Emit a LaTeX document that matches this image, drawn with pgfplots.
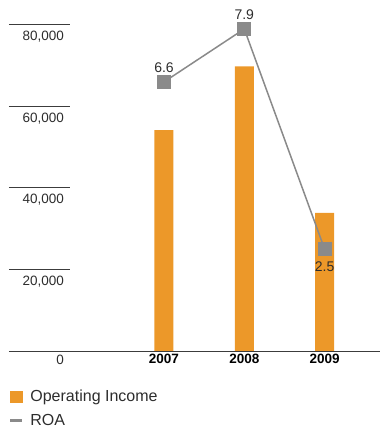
\documentclass[border=0pt]{standalone}
\usepackage{pgfplots}
\usepackage{pgfplotstable}
\usepackage{fontspec}
\setmainfont{Liberation Sans}
\pgfplotsset{compat=1.18}
\definecolor{barorange}{RGB}{236,152,41}
\definecolor{roagray}{RGB}{138,138,138}
\definecolor{txt}{RGB}{45,45,45}
\definecolor{rule}{RGB}{60,60,60}

\pgfplotstableread{
x income
0 54200
1 69800
2 33900
}\incometable

\pgfplotstableread{
x roa
0 6.6
1 7.9
2 2.5
}\roatable

\begin{document}
\begin{tikzpicture}
\useasboundingbox (0,0) rectangle (380pt,430pt);
\begin{axis}[
  at={(9pt,79pt)}, anchor=south west,
  scale only axis, width=371pt, height=351pt,
  xmin=-1.93, xmax=2.69,
  ymin=0, ymax=86100,
  axis line style={draw=none},
  xtick={0,1,2}, xticklabels={2007,2008,2009},
  xtick pos=bottom, xtick style={draw=none},
  xticklabel style={font=\fontsize{13.5}{16}\selectfont\bfseries, text=black, inner sep=0pt, anchor=north, yshift=-3pt},
  ytick={20000,40000,60000,80000},
  ytick pos=left, tick align=inside,
  major tick length=61pt,
  ytick style={draw=rule, line width=0.9pt},
  yticklabel style={font=\fontsize{13.5}{16}\selectfont, text=txt, inner sep=0pt, anchor=north east, xshift=55pt, yshift=-6pt},
  scaled y ticks=false,
  yticklabel={\pgfmathprintnumber[fixed, 1000 sep={,}]{\tick}},
  /pgf/number format/assume math mode=true,
  extra y ticks={0},
  extra y tick labels={0},
  extra y tick style={major tick length=371pt, tick style={draw=rule, line width=0.9pt}, yticklabel style={yshift=2pt}},
  clip=false,
]
\addplot[ybar, bar width=19pt, fill=barorange, draw=none] table[x=x, y=income] {\incometable};
\end{axis}
\begin{axis}[
  at={(9pt,79pt)}, anchor=south west,
  scale only axis, width=371pt, height=351pt,
  xmin=-1.93, xmax=2.69,
  ymin=0, ymax=8.61,
  hide axis, clip=false,
  /pgf/number format/assume math mode=true,
  legend style={at={(axis description cs:0,0)}, anchor=north west, yshift=-39pt,
    draw=none, fill=none, inner sep=0pt, outer sep=0pt, row sep=11pt, column sep=7pt,
    font=\fontsize{16}{19}\selectfont, text=txt,
    nodes={inner sep=0pt}},
  legend cell align=left,
]
\addlegendimage{legend image code/.code={\fill[barorange] (0pt,-5.5pt) rectangle (11.4pt,5.5pt);}}
\addlegendentry{Operating Income}
\addplot[color=roagray, line width=1.5pt, mark=square*, mark size=6.2pt,
  mark options={solid, fill=roagray, draw=none},
  legend image code/.code={\draw[line width=3pt, roagray] (0pt,0pt) -- (11.4pt,0pt);},
  point meta=y,
  nodes near coords={\pgfmathprintnumber[fixed, precision=1, fixed zerofill, assume math mode=true]{\pgfplotspointmeta}},
  every node near coord/.append style={font=\fontsize{14}{16}\selectfont, text=txt, inner sep=0pt},
  coordinate style/.condition={y>5}{anchor=south, yshift=8.5pt},
  coordinate style/.condition={y<5}{anchor=north, yshift=-11.5pt},
] table[x=x, y=roa] {\roatable};
\addlegendentry{ROA}
\end{axis}
\end{tikzpicture}
\end{document}
